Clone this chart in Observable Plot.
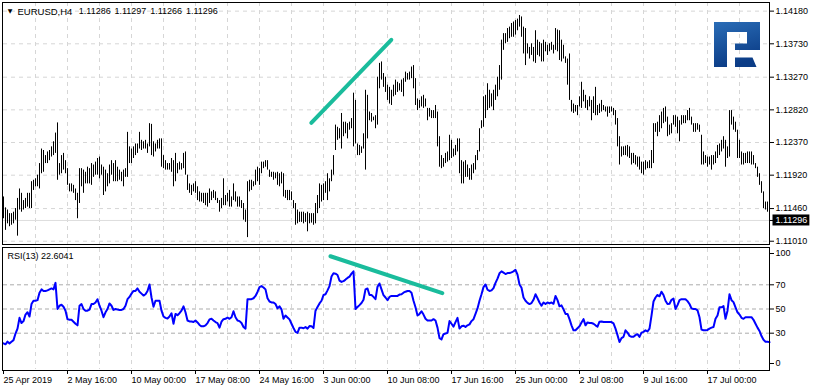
<!DOCTYPE html>
<html><head><meta charset="utf-8">
<script src="https://cdn.jsdelivr.net/npm/d3@7"></script>
<script src="https://cdn.jsdelivr.net/npm/@observablehq/plot@0.6"></script>
<style>
html,body{margin:0;padding:0;background:#fff;}
#chart{position:relative;width:815px;height:391px;overflow:hidden;font-family:"Liberation Sans",Arial,sans-serif;}
#chart svg{display:block;}
#logo{position:absolute;left:714px;top:22px;}
</style></head><body>
<div id="chart">
<svg id="logo" width="46" height="45" viewBox="0 0 46 45">
<defs><linearGradient id="lg" x1="0" y1="0" x2="0.3" y2="1"><stop offset="0" stop-color="#2a6db7"/><stop offset="1" stop-color="#0b3c86"/></linearGradient></defs>
<path fill="url(#lg)" d="M0 0H46V28H21V21.5H33V10H13V45H0Z M21 35.5H38.5L42.5 45H21Z"/>
</svg>
</div>
<script>
// ---- data ----
const symbol = "EURUSD,H4";
const ohlc = [1.11286, 1.11297, 1.11266, 1.11296];
const highs = [
1.1162,1.1147,1.1144,1.1139,1.1139,1.1141,1.1146,1.1160,1.1173,1.1167,
1.1157,1.1160,1.1167,1.1167,1.1183,1.1185,1.1187,1.1192,1.1208,1.1228,
1.1226,1.1219,1.1224,1.1226,1.1231,1.1238,1.1250,1.1264,1.1208,1.1219,
1.1222,1.1212,1.1201,1.1180,1.1180,1.1178,1.1173,1.1167,1.1201,1.1201,
1.1199,1.1196,1.1203,1.1201,1.1208,1.1206,1.1210,1.1215,1.1217,1.1206,
1.1203,1.1199,1.1194,1.1206,1.1212,1.1208,1.1212,1.1203,1.1199,1.1196,
1.1199,1.1201,1.1251,1.1231,1.1228,1.1231,1.1235,1.1235,1.1251,1.1240,
1.1238,1.1240,1.1235,1.1263,1.1262,1.1238,1.1235,1.1240,1.1242,1.1242,
1.1219,1.1212,1.1208,1.1208,1.1215,1.1212,1.1222,1.1208,1.1210,1.1208,
1.1222,1.1224,1.1192,1.1180,1.1178,1.1180,1.1183,1.1176,1.1169,1.1167,
1.1167,1.1167,1.1167,1.1173,1.1169,1.1171,1.1169,1.1160,1.1157,1.1160,
1.1187,1.1164,1.1167,1.1171,1.1162,1.1180,1.1169,1.1162,1.1162,1.1157,
1.1153,1.1144,1.1183,1.1185,1.1185,1.1183,1.1199,1.1203,1.1201,1.1210,
1.1210,1.1212,1.1212,1.1199,1.1196,1.1196,1.1195,1.1196,1.1194,1.1196,
1.1194,1.1171,1.1171,1.1171,1.1169,1.1157,1.1153,1.1144,1.1141,1.1141,
1.1141,1.1139,1.1141,1.1139,1.1139,1.1139,1.1153,1.1164,1.1180,1.1178,
1.1180,1.1183,1.1194,1.1187,1.1199,1.1219,1.1261,1.1258,1.1256,1.1277,
1.1265,1.1265,1.1263,1.1265,1.1270,1.1305,1.1295,1.1235,1.1233,1.1231,
1.1249,1.1309,1.1302,1.1279,1.1277,1.1272,1.1274,1.1327,1.1346,1.1348,
1.1332,1.1327,1.1316,1.1313,1.1309,1.1316,1.1323,1.1320,1.1318,1.1323,
1.1325,1.1334,1.1332,1.1334,1.1341,1.1343,1.1325,1.1297,1.1295,1.1300,
1.1302,1.1297,1.1284,1.1284,1.1281,1.1281,1.1288,1.1279,1.1245,1.1219,
1.1215,1.1222,1.1224,1.1247,1.1240,1.1228,1.1233,1.1242,1.1242,1.1212,
1.1210,1.1212,1.1206,1.1201,1.1206,1.1208,1.1219,1.1226,1.1256,1.1267,
1.1300,1.1302,1.1318,1.1309,1.1304,1.1309,1.1316,1.1327,1.1343,1.1378,
1.1387,1.1387,1.1394,1.1396,1.1401,1.1403,1.1405,1.1407,1.1412,1.1410,
1.1396,1.1394,1.1373,1.1368,1.1373,1.1368,1.1391,1.1378,1.1375,1.1373,
1.1378,1.1375,1.1371,1.1373,1.1375,1.1371,1.1394,1.1392,1.1391,1.1378,
1.1371,1.1355,1.1352,1.1359,1.1295,1.1290,1.1288,1.1288,1.1300,1.1320,
1.1309,1.1302,1.1295,1.1300,1.1295,1.1300,1.1313,1.1288,1.1290,1.1295,
1.1288,1.1286,1.1286,1.1286,1.1286,1.1284,1.1281,1.1270,1.1245,1.1231,
1.1231,1.1232,1.1233,1.1231,1.1222,1.1222,1.1219,1.1217,1.1217,1.1210,
1.1210,1.1212,1.1210,1.1212,1.1226,1.1263,1.1263,1.1265,1.1274,1.1279,
1.1284,1.1286,1.1272,1.1261,1.1263,1.1274,1.1274,1.1272,1.1267,1.1274,
1.1274,1.1274,1.1281,1.1284,1.1272,1.1263,1.1263,1.1263,1.1261,1.1247,
1.1224,1.1219,1.1217,1.1217,1.1219,1.1219,1.1224,1.1233,1.1235,1.1240,
1.1245,1.1240,1.1231,1.1281,1.1281,1.1272,1.1265,1.1254,1.1240,1.1224,
1.1222,1.1222,1.1224,1.1224,1.1224,1.1219,1.1208,1.1203,1.1194,1.1183,
1.1169,1.1155,1.1155,1.11297];
const lows = [
1.1132,1.1116,1.1125,1.1121,1.1123,1.1125,1.1130,1.1108,1.1144,1.1141,
1.1144,1.1146,1.1148,1.1146,1.1146,1.1171,1.1176,1.1176,1.1173,1.1194,
1.1196,1.1208,1.1208,1.1212,1.1217,1.1219,1.1222,1.1185,1.1192,1.1194,
1.1199,1.1194,1.1178,1.1169,1.1169,1.1167,1.1157,1.1132,1.1153,1.1176,
1.1167,1.1180,1.1180,1.1180,1.1178,1.1189,1.1192,1.1192,1.1187,1.1192,
1.1164,1.1169,1.1176,1.1180,1.1192,1.1183,1.1183,1.1183,1.1185,1.1183,
1.1176,1.1189,1.1189,1.1208,1.1208,1.1215,1.1219,1.1222,1.1228,1.1226,
1.1228,1.1228,1.1222,1.1231,1.1219,1.1217,1.1224,1.1228,1.1228,1.1203,
1.1201,1.1199,1.1199,1.1199,1.1196,1.1176,1.1183,1.1194,1.1199,1.1199,
1.1201,1.1192,1.1171,1.1167,1.1164,1.1169,1.1167,1.1157,1.1155,1.1155,
1.1153,1.1150,1.1148,1.1153,1.1157,1.1160,1.1157,1.1153,1.1141,1.1146,
1.1150,1.1150,1.1155,1.1148,1.1148,1.1157,1.1155,1.1148,1.1148,1.1146,
1.1130,1.1127,1.1106,1.1169,1.1171,1.1176,1.1178,1.1183,1.1178,1.1194,
1.1201,1.1203,1.1199,1.1189,1.1189,1.1185,1.1187,1.1178,1.1176,1.1180,
1.1162,1.1160,1.1157,1.1157,1.1157,1.1146,1.1123,1.1125,1.1127,1.1127,
1.1125,1.1127,1.1114,1.1125,1.1126,1.1123,1.1125,1.1139,1.1146,1.1155,
1.1157,1.1167,1.1157,1.1169,1.1183,1.1192,1.1226,1.1240,1.1242,1.1228,
1.1245,1.1249,1.1242,1.1254,1.1256,1.1231,1.1235,1.1219,1.1219,1.1222,
1.1228,1.1199,1.1242,1.1267,1.1265,1.1267,1.1256,1.1261,1.1311,1.1323,
1.1313,1.1306,1.1295,1.1290,1.1288,1.1300,1.1302,1.1306,1.1308,1.1306,
1.1300,1.1320,1.1323,1.1323,1.1325,1.1311,1.1288,1.1281,1.1284,1.1286,
1.1284,1.1286,1.1267,1.1272,1.1270,1.1270,1.1270,1.1231,1.1203,1.1201,
1.1203,1.1208,1.1210,1.1212,1.1215,1.1217,1.1219,1.1224,1.1194,1.1180,
1.1180,1.1189,1.1189,1.1185,1.1185,1.1194,1.1199,1.1212,1.1224,1.1256,
1.1258,1.1270,1.1281,1.1284,1.1286,1.1281,1.1295,1.1300,1.1309,1.1323,
1.1364,1.1373,1.1375,1.1380,1.1382,1.1382,1.1385,1.1391,1.1396,1.1382,
1.1359,1.1343,1.1359,1.1352,1.1357,1.1348,1.1346,1.1357,1.1355,1.1348,
1.1348,1.1362,1.1357,1.1362,1.1364,1.1359,1.1364,1.1362,1.1350,1.1348,
1.1352,1.1346,1.1316,1.1295,1.1279,1.1277,1.1279,1.1274,1.1286,1.1284,
1.1293,1.1284,1.1281,1.1286,1.1267,1.1277,1.1274,1.1274,1.1277,1.1279,
1.1281,1.1279,1.1272,1.1277,1.1279,1.1274,1.1261,1.1231,1.1206,1.1217,
1.1219,1.1219,1.1217,1.1215,1.1206,1.1208,1.1206,1.1203,1.1199,1.1194,
1.1192,1.1199,1.1201,1.1201,1.1201,1.1208,1.1251,1.1245,1.1251,1.1256,
1.1263,1.1265,1.1245,1.1247,1.1249,1.1261,1.1258,1.1249,1.1238,1.1261,
1.1263,1.1263,1.1267,1.1267,1.1261,1.1251,1.1251,1.1254,1.1251,1.1206,
1.1206,1.1208,1.1203,1.1206,1.1199,1.1206,1.1208,1.1215,1.1219,1.1224,
1.1228,1.1203,1.1215,1.1217,1.1261,1.1254,1.1251,1.1215,1.1215,1.1206,
1.1206,1.1208,1.1208,1.1208,1.1206,1.1206,1.1201,1.1189,1.1178,1.1167,
1.1146,1.1144,1.1141,1.11266];
const rsi = [
21.6,20.8,23.0,21.6,23.0,24.3,29.7,33.8,42.7,38.4,
40.0,45.4,47.3,43.8,54.1,56.8,56.8,57.3,63.5,66.2,
64.9,64.9,65.4,66.2,67.0,66.2,71.6,50.0,52.7,53.5,
51.9,48.6,41.6,41.1,41.1,39.5,37.8,36.5,52.7,54.1,
50.0,48.6,48.6,49.5,54.1,54.1,55.4,58.1,52.7,48.6,
43.2,47.3,50.0,54.6,52.7,49.2,50.0,49.5,49.2,49.2,
50.0,52.7,58.1,60.0,62.7,64.9,64.9,67.0,64.3,62.7,
61.1,62.2,64.9,70.3,59.5,51.9,56.8,56.8,56.8,48.6,
43.8,42.7,42.2,43.8,46.5,37.8,45.9,44.9,46.5,48.6,
52.2,47.3,40.5,39.7,39.7,39.2,40.5,38.9,36.8,35.7,
35.7,36.5,38.4,41.4,41.9,40.5,39.2,38.4,34.6,39.5,
41.6,41.9,43.0,41.9,43.2,48.1,43.2,40.5,40.0,38.4,
35.1,33.8,58.1,58.1,58.1,58.9,60.8,64.1,68.1,68.9,
67.8,66.2,58.9,56.2,55.4,55.4,54.1,50.5,52.2,49.7,
41.9,44.6,43.0,41.4,37.8,34.3,31.1,30.3,34.6,34.6,
34.1,35.1,33.8,35.9,35.7,34.3,48.6,51.6,54.6,56.8,
61.6,62.2,65.4,68.9,76.8,79.5,79.2,78.1,73.5,72.4,
73.0,74.3,75.7,76.8,79.2,81.1,50.0,51.6,53.2,54.9,
57.6,66.2,67.0,61.6,61.6,60.0,58.1,68.4,71.1,66.2,
61.4,59.5,57.3,60.0,60.8,60.8,60.8,60.8,61.9,62.2,
63.5,64.3,64.9,64.9,63.5,56.8,51.4,44.6,45.9,48.1,
45.4,41.9,40.5,40.5,40.5,41.6,40.5,34.6,25.9,24.9,
29.2,29.7,30.3,40.0,37.8,35.4,39.2,42.7,33.8,35.7,
36.2,35.1,36.5,37.3,40.0,41.6,45.9,50.5,56.8,62.2,
68.1,70.3,65.9,64.9,65.4,67.3,71.6,75.1,79.5,81.1,
80.0,78.9,79.7,79.7,80.3,81.1,82.4,78.4,70.3,67.6,
59.5,56.8,55.1,54.1,54.9,57.6,62.2,58.9,55.4,52.7,
55.4,54.1,55.4,54.6,55.4,54.3,60.8,57.3,52.2,53.0,
49.7,45.9,45.9,41.6,36.5,32.4,32.4,34.1,35.7,38.9,
41.6,36.5,38.9,38.4,38.4,37.8,36.5,35.4,39.5,39.7,
39.2,39.2,39.2,39.2,39.2,38.1,33.8,28.4,22.7,25.9,
27.0,32.4,30.5,27.8,27.0,27.0,28.4,29.2,27.0,30.5,
31.1,32.4,31.4,33.8,44.6,56.2,59.5,61.6,60.5,64.3,
61.6,56.8,54.1,54.3,57.6,58.6,50.0,53.2,57.3,58.1,
58.1,58.1,56.5,54.1,50.5,50.0,50.0,48.9,43.2,33.0,
32.4,32.4,32.7,33.8,34.6,35.1,41.9,44.6,51.4,51.4,
52.4,41.9,48.6,62.2,57.3,55.7,51.4,47.3,45.4,42.7,
41.9,43.2,43.2,43.2,43.2,41.1,37.8,34.6,31.9,27.6,
24.6,23.0,23.0,22.6041];
const rsiPeriod = 13;
const priceTicks = [1.1418, 1.1373, 1.1327, 1.1282, 1.1237, 1.1192, 1.1146, 1.1101];
const rsiLevels = [70, 50, 30];
const tickIdx = [0, 32, 64, 96, 128, 160, 192, 224, 256, 288, 320, 352];
const timeLabels = ["25 Apr 2019", "2 May 16:00", "10 May 00:00", "17 May 08:00", "24 May 16:00", "3 Jun 00:00",
  "10 Jun 08:00", "17 Jun 16:00", "25 Jun 00:00", "2 Jul 08:00", "9 Jul 16:00", "17 Jul 00:00"];
const gridIdx = [16,32,48,64,80,96,112,128,144,160,176,192,208,224,240,256,272,288,304,320,336,352,368];
const priceTrendIdx = [153.9, 193.9];
const priceTrendVal = [1.12642, 1.13785];
const rsiTrendIdx = [163.5, 219.4];
const rsiTrendVal = [93.6, 63.1];

// ---- build ----
const n = highs.length;
const bid = ohlc[3];
const bars = d3.range(n).map(i => ({i, high: highs[i], low: lows[i]}));
const rsiData = rsi.map((v, i) => ({i, v}));
const pTrend = priceTrendIdx.map((x, k) => ({i: x, v: priceTrendVal[k]}));
const rTrend = rsiTrendIdx.map((x, k) => ({i: x, v: rsiTrendVal[k]}));
const font = '"Liberation Sans", Arial, sans-serif';
const teal = "#1abc9c";
const gridColor = "#d6d6d6";
const style = {fontFamily: font, fontSize: "9px", color: "black", background: "transparent", overflow: "visible"};
const ohlcText = ohlc.map((d, k) => ({k, s: d.toFixed(5)}));

const main = Plot.plot({
  width: 815, height: 246,
  marginTop: 2, marginBottom: 2, marginLeft: 3, marginRight: 46,
  x: {domain: [0, n - 1], axis: null, label: null},
  y: {domain: [1.10965, 1.14299], label: null},
  style,
  marks: [
    Plot.ruleY(priceTicks, {stroke: gridColor, strokeDasharray: "4,4"}),
    Plot.ruleX(gridIdx, {stroke: gridColor, strokeDasharray: "4,4"}),
    Plot.ruleY([bid], {stroke: "#dedede"}),
    Plot.ruleX(bars, {x: "i", y1: "low", y2: "high", stroke: "black", strokeWidth: 1}),
    Plot.line(pTrend, {x: "i", y: "v", stroke: teal, strokeWidth: 4, strokeLinecap: "round"}),
    Plot.frame({stroke: "black", insetLeft: -1}),
    Plot.axisY(priceTicks, {anchor: "right", tickSize: 4, tickPadding: 2, tickFormat: d => d.toFixed(5), label: null, fontSize: 9}),
    Plot.axisY([bid], {anchor: "right", tickSize: 4, tickPadding: 2, tickFormat: d => d.toFixed(5), label: null, fill: "white", fontSize: 9}),
    Plot.text(["\u25BC"], {text: d => d, frameAnchor: "top-left", dx: 6.5, dy: 8.5, lineAnchor: "middle", textAnchor: "middle", fontSize: 6, fontFamily: "DejaVu Sans"}),
    Plot.text([symbol], {text: d => d, frameAnchor: "top-left", dx: 14, dy: 9, lineAnchor: "middle", textAnchor: "start", fontSize: 9.5}),
    ...ohlcText.map(o => Plot.text([o.s], {text: d => d, frameAnchor: "top-left", dx: 75.3 + 35.7 * o.k, dy: 9, lineAnchor: "middle", textAnchor: "start", fontSize: 9}))
  ]
});

const lower = Plot.plot({
  width: 815, height: 145,
  marginTop: 2, marginBottom: 22, marginLeft: 3, marginRight: 46,
  x: {domain: [0, n - 1], label: null},
  y: {domain: [0, 100], label: null},
  style,
  marks: [
    Plot.ruleX(gridIdx, {stroke: gridColor, strokeDasharray: "4,4"}),
    Plot.ruleY(rsiLevels, {stroke: "#ababab", strokeDasharray: "4,3"}),
    Plot.line(rsiData, {x: "i", y: "v", stroke: "#0000ff", strokeWidth: 2}),
    Plot.line(rTrend, {x: "i", y: "v", stroke: teal, strokeWidth: 4, strokeLinecap: "round"}),
    Plot.frame({stroke: "black", insetTop: -1, insetBottom: -1, insetLeft: -1}),
    Plot.axisY(rsiLevels, {anchor: "right", tickSize: 4, tickPadding: 2, label: null, fontSize: 9}),
    Plot.axisY([100], {anchor: "right", tickSize: 4, tickPadding: 2, label: null, dy: 5, fontSize: 9}),
    Plot.axisY([0], {anchor: "right", tickSize: 4, tickPadding: 2, label: null, dy: -6, fontSize: 9}),
    Plot.axisX(tickIdx, {anchor: "bottom", tickSize: 4, tickPadding: 2, dy: 1, textAnchor: "start", label: null, fontSize: 9,
      tickFormat: i => timeLabels[tickIdx.indexOf(i)]}),
    Plot.text([`RSI(${rsiPeriod}) ${rsi[n - 1]}`], {text: d => d, frameAnchor: "top-left", dx: 4, dy: 7.5, lineAnchor: "middle", textAnchor: "start", fontSize: 9})
  ]
});

const chart = document.getElementById("chart");
const logo = document.getElementById("logo");
chart.insertBefore(main, logo);
chart.insertBefore(lower, logo);

// black background box behind the current-price label
const bidStr = bid.toFixed(5);
for (const t of main.querySelectorAll("text")) {
  if (t.textContent === bidStr && t.closest("g") && t.closest("g").getAttribute("fill") === "white") {
    const sb = main.getBoundingClientRect(), tb = t.getBoundingClientRect();
    const yc = main.scale("y").apply(bid);
    const r = document.createElementNS("http://www.w3.org/2000/svg", "rect");
    r.setAttribute("x", tb.left - sb.left - 3);
    r.setAttribute("y", yc - 5.5);
    r.setAttribute("width", tb.width + 5);
    r.setAttribute("height", 11);
    r.setAttribute("fill", "black");
    let g = t;
    while (g.parentNode !== main) g = g.parentNode;
    main.insertBefore(r, g);
    break;
  }
}
</script>
</body></html>
